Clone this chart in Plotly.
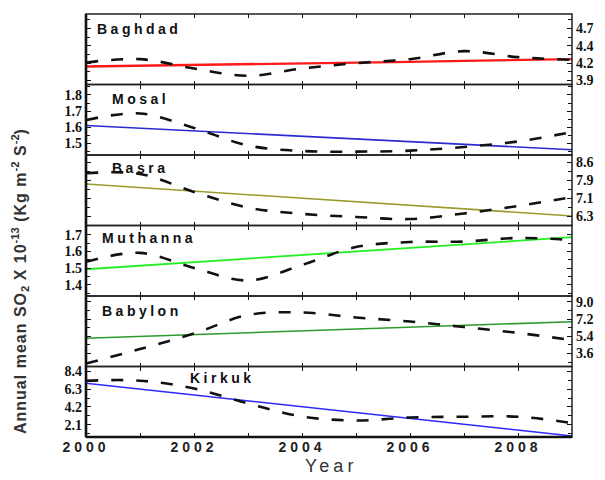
import plotly.graph_objects as go
from plotly.subplots import make_subplots

# ---- data -------------------------------------------------------------
years = list(range(2000, 2010))

cities = ["Baghdad", "Mosal", "Basra", "Muthanna", "Babylon", "Kirkuk"]

baghdad_mean = [4.17, 4.22, 4.08, 3.97, 4.08, 4.16, 4.22, 4.34, 4.25, 4.21]
baghdad_trend = [4.11, 4.12, 4.13, 4.145, 4.16, 4.17, 4.18, 4.195, 4.205, 4.22]

mosal_mean = [1.644, 1.685, 1.595, 1.486, 1.452, 1.448, 1.454, 1.477, 1.511, 1.570]
mosal_trend = [1.61, 1.593, 1.577, 1.56, 1.543, 1.527, 1.51, 1.493, 1.477, 1.46]

basra_mean = [8.13, 8.10, 7.33, 6.66, 6.39, 6.26, 6.17, 6.41, 6.73, 7.11]
basra_trend = [7.67, 7.52, 7.37, 7.21, 7.06, 6.91, 6.76, 6.61, 6.45, 6.30]

muthanna_mean = [1.539, 1.592, 1.502, 1.427, 1.520, 1.627, 1.657, 1.660, 1.681, 1.669]
muthanna_trend = [1.494, 1.515, 1.537, 1.558, 1.579, 1.601, 1.622, 1.643, 1.665, 1.686]

babylon_mean = [2.55, 4.07, 5.69, 7.63, 7.89, 7.37, 6.95, 6.37, 5.75, 5.01]
babylon_trend = [5.19, 5.38, 5.58, 5.77, 5.96, 6.16, 6.35, 6.54, 6.74, 6.93]

kirkuk_mean = [7.29, 7.29, 6.37, 4.60, 3.07, 2.60, 2.95, 3.04, 3.04, 2.30]
kirkuk_trend = [6.99, 6.30, 5.61, 4.92, 4.23, 3.53, 2.84, 2.15, 1.46, 0.77]

# y tick labels per panel (values and printed text)
baghdad_ticks = [3.9, 4.16, 4.42, 4.68]
baghdad_ticktext = ["3.9", "4.2", "4.4", "4.7"]
mosal_ticks = [1.5, 1.6, 1.7, 1.8]
mosal_ticktext = ["1.5", "1.6", "1.7", "1.8"]
basra_ticks = [6.3, 7.067, 7.833, 8.6]
basra_ticktext = ["6.3", "7.1", "7.9", "8.6"]
muthanna_ticks = [1.4, 1.5, 1.6, 1.7]
muthanna_ticktext = ["1.4", "1.5", "1.6", "1.7"]
babylon_ticks = [3.6, 5.4, 7.2, 9.0]
babylon_ticktext = ["3.6", "5.4", "7.2", "9.0"]
kirkuk_ticks = [2.1, 4.2, 6.3, 8.4]
kirkuk_ticktext = ["2.1", "4.2", "6.3", "8.4"]

year_ticks = [2000, 2002, 2004, 2006, 2008]
year_ticktext = ["2000", "2002", "2004", "2006", "2008"]

# ---- panel styling ----------------------------------------------------
panels = [
    dict(mean=baghdad_mean, trend=baghdad_trend, color="#ff1a1a", width=2.4,
         ticks=baghdad_ticks, text=baghdad_ticktext, side="right",
         rng=[3.84, 4.8975], minor=0.13, label_xy=(95, 29)),
    dict(mean=mosal_mean, trend=mosal_trend, color="#2a2ad0", width=1.6,
         ticks=mosal_ticks, text=mosal_ticktext, side="left",
         rng=[1.427, 1.865], minor=0.05, label_xy=(110, 99)),
    dict(mean=basra_mean, trend=basra_trend, color="#9a9a2e", width=1.6,
         ticks=basra_ticks, text=basra_ticktext, side="right",
         rng=[5.893, 8.912], minor=0.3833, label_xy=(110, 168)),
    dict(mean=muthanna_mean, trend=muthanna_trend, color="#22f022", width=1.8,
         ticks=muthanna_ticks, text=muthanna_ticktext, side="left",
         rng=[1.334, 1.756], minor=0.05, label_xy=(100, 238)),
    dict(mean=babylon_mean, trend=babylon_trend, color="#2e9a2e", width=1.6,
         ticks=babylon_ticks, text=babylon_ticktext, side="right",
         rng=[2.24, 9.618], minor=0.9, label_xy=(100, 311)),
    dict(mean=kirkuk_mean, trend=kirkuk_trend, color="#2a2aff", width=1.6,
         ticks=kirkuk_ticks, text=kirkuk_ticktext, side="left",
         rng=[0.649, 8.967], minor=1.05, label_xy=(188, 378)),
]

W, H = 605, 480
ML, MR, MT, MB = 86, 33, 14, 43
PW, PH = W - ML - MR, H - MT - MB

fig = make_subplots(rows=6, cols=1, shared_xaxes=True, vertical_spacing=0)

tick_font = dict(family="Liberation Serif", size=14, color="#111", weight="bold")

for i, p in enumerate(panels, start=1):
    fig.add_trace(go.Scatter(x=years, y=p["trend"], mode="lines",
                             line=dict(color=p["color"], width=p["width"]),
                             showlegend=False, hoverinfo="skip"), row=i, col=1)
    fig.add_trace(go.Scatter(x=years, y=p["mean"], mode="lines",
                             line=dict(color="#111", width=2.6, dash="12px,13px",
                                       shape="spline", smoothing=1.0),
                             showlegend=False, hoverinfo="skip"), row=i, col=1)
    fig.update_yaxes(
        row=i, col=1, range=p["rng"], tickmode="array", tickvals=p["ticks"],
        ticktext=p["text"], side=p["side"], ticks="inside", ticklen=5,
        tickwidth=1.2, tickcolor="#111", mirror="allticks", showline=False,
        showgrid=False, zeroline=False,
        tickfont=tick_font, ticklabelstandoff=3,
        minor=dict(tickmode="linear", tick0=p["ticks"][0], dtick=p["minor"],
                   ticks="inside", ticklen=4, tickcolor="#111", tickwidth=1.2,
                   showgrid=False),
    )
    fig.update_xaxes(
        row=i, col=1, range=[2000, 2009], tickmode="array", tickvals=year_ticks,
        ticktext=[f"<span style='letter-spacing:4px'>{t}</span>" for t in year_ticktext],
        ticks="inside", ticklen=4, tickwidth=1.2, tickcolor="#111",
        mirror="allticks", showline=False,
        showgrid=False, zeroline=False, showticklabels=(i == 6),
        tickfont=dict(family="Liberation Sans", size=14, color="#222", weight="bold"),
        minor=dict(tickmode="linear", tick0=2000, dtick=1, ticks="inside",
                   ticklen=4, tickcolor="#111", tickwidth=1.2, showgrid=False),
    )
    # panel frame
    fig.add_shape(type="rect", xref="x domain", yref="y domain", x0=0, x1=1,
                  y0=0, y1=1, line=dict(color="#222", width=1.5),
                  row=i, col=1)
    lx, ly = p["label_xy"]
    fig.add_annotation(
        x=(lx - ML) / PW, y=(H - MB - ly) / PH, xref="paper", yref="paper",
        xanchor="left", yanchor="middle", showarrow=False,
        text=f"<span style='letter-spacing:3.5px'>{cities[i - 1]}</span>",
        font=dict(family="Liberation Sans", size=14, color="#111", weight="bold"),
    )

# heavier outer edges on the left and bottom
fig.add_shape(type="line", xref="paper", yref="paper", x0=0, x1=0, y0=0, y1=1,
              line=dict(color="#111", width=2.6))
fig.add_shape(type="line", xref="paper", yref="paper", x0=0, x1=1, y0=0, y1=0,
              line=dict(color="#111", width=2.6))

# axis titles
ls = "<span style='letter-spacing:1px'>"
ytitle = (f"{ls}Annual mean SO</span><sub>2</sub>{ls} X 10</span><sup>-13</sup>"
          f"{ls} (Kg m</span><sup>-2</sup>{ls} S</span><sup>-2</sup>)")
fig.add_annotation(
    x=(20 - ML) / PW, y=(H - MB - 282) / PH, xref="paper", yref="paper",
    xanchor="center", yanchor="middle", showarrow=False, textangle=-90,
    text=ytitle,
    font=dict(family="Liberation Sans", size=16, color="#333", weight="bold"),
)
fig.add_annotation(
    x=(331 - ML) / PW, y=(H - MB - 466) / PH, xref="paper", yref="paper",
    xanchor="center", yanchor="middle", showarrow=False,
    text="<span style='letter-spacing:4px'>Year</span>",
    font=dict(family="Liberation Sans", size=18, color="#333"),
)

fig.update_layout(
    width=W, height=H, margin=dict(l=ML, r=MR, t=MT, b=MB),
    paper_bgcolor="white", plot_bgcolor="white", showlegend=False,
)

fig.write_html("out.html")
